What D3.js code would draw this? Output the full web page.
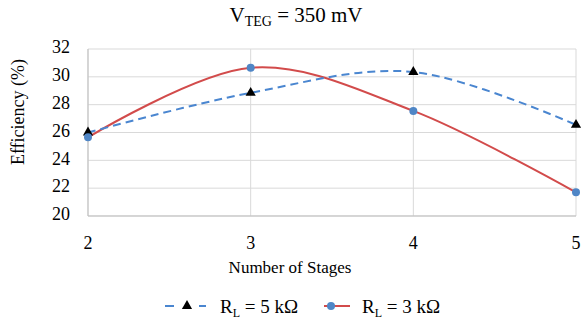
<!DOCTYPE html>
<html>
<head>
<meta charset="utf-8">
<script src="https://cdn.jsdelivr.net/npm/d3@7"></script>
<style>
  body { margin: 0; background: #fff; }
</style>
</head>
<body>
<div id="chart"></div>
<script>
// Data
const stages = [2, 3, 4, 5];
const rl5k = [26.0, 28.85, 30.35, 26.55];
const rl3k = [25.65, 30.65, 27.55, 21.7];
const yTicks = [20, 22, 24, 26, 28, 30, 32];

const width = 583, height = 322;
const margin = { top: 49, right: 7, bottom: 106, left: 88 };
const serif = "'Liberation Serif', 'DejaVu Serif', 'Times New Roman', serif";

const svg = d3.select("#chart").append("svg")
  .attr("width", width)
  .attr("height", height)
  .style("font-family", serif);

const x = d3.scaleLinear().domain([2, 5]).range([margin.left, width - margin.right]);
const y = d3.scaleLinear().domain([20, 32]).range([height - margin.bottom, margin.top]);

// Gridlines
svg.append("g")
  .selectAll("line")
  .data(yTicks)
  .join("line")
  .attr("x1", margin.left).attr("x2", width - margin.right)
  .attr("y1", d => y(d)).attr("y2", d => y(d))
  .attr("stroke", "#d9d9d9");

svg.append("g")
  .selectAll("line")
  .data(stages)
  .join("line")
  .attr("x1", d => x(d)).attr("x2", d => x(d))
  .attr("y1", y(20)).attr("y2", y(32))
  .attr("stroke", "#d9d9d9");

// Axis lines
svg.append("line")
  .attr("x1", margin.left).attr("x2", margin.left)
  .attr("y1", y(20)).attr("y2", y(32))
  .attr("stroke", "#bfbfbf");
svg.append("line")
  .attr("x1", margin.left).attr("x2", width - margin.right)
  .attr("y1", y(20)).attr("y2", y(20))
  .attr("stroke", "#bfbfbf");

// Tick labels
svg.append("g")
  .selectAll("text")
  .data(yTicks)
  .join("text")
  .attr("x", 70)
  .attr("y", d => y(d) - 2)
  .attr("dy", "0.35em")
  .attr("text-anchor", "end")
  .style("font-size", "18px")
  .text(d => d);

svg.append("g")
  .selectAll("text")
  .data(stages)
  .join("text")
  .attr("x", d => x(d))
  .attr("y", 243)
  .attr("dy", "0.35em")
  .attr("text-anchor", "middle")
  .style("font-size", "18px")
  .text(d => d);

// Titles
const title = svg.append("text")
  .attr("x", 296)
  .attr("y", 22)
  .attr("text-anchor", "middle")
  .style("font-size", "21px");
title.append("tspan").text("V");
title.append("tspan").attr("dy", 4).style("font-size", "14px").text("TEG");
title.append("tspan").attr("dy", -4).text(" = 350 mV");

svg.append("text")
  .attr("x", 290)
  .attr("y", 273)
  .attr("text-anchor", "middle")
  .style("font-size", "17px")
  .text("Number of Stages");

svg.append("text")
  .attr("transform", "translate(24,112) rotate(-90)")
  .attr("text-anchor", "middle")
  .style("font-size", "18px")
  .text("Efficiency (%)");

// Lines
const line = d3.line()
  .x((d, i) => x(stages[i]))
  .y(d => y(d))
  .curve(d3.curveCardinal.tension(0));

svg.append("path")
  .datum(rl3k)
  .attr("d", line)
  .attr("fill", "none")
  .attr("stroke", "#d24b4b")
  .attr("stroke-width", 2);

svg.append("path")
  .datum(rl5k)
  .attr("d", line)
  .attr("fill", "none")
  .attr("stroke", "#4a86d0")
  .attr("stroke-width", 2)
  .attr("stroke-dasharray", "8,5");

// Markers
const tri = d3.symbol().type(d3.symbolTriangle).size(45);

svg.append("g")
  .selectAll("path")
  .data(rl5k)
  .join("path")
  .attr("d", tri)
  .attr("transform", (d, i) => `translate(${x(stages[i])},${y(d)})`)
  .attr("fill", "#000");

svg.append("g")
  .selectAll("circle")
  .data(rl3k)
  .join("circle")
  .attr("cx", (d, i) => x(stages[i]))
  .attr("cy", d => y(d))
  .attr("r", 4)
  .attr("fill", "#4f86c6");

// Legend
const leg = svg.append("g").attr("transform", "translate(0,306)");

leg.append("line")
  .attr("x1", 165).attr("x2", 206).attr("y1", 0).attr("y2", 0)
  .attr("stroke", "#4a86d0").attr("stroke-width", 2)
  .attr("stroke-dasharray", "9,8");
leg.append("rect")
  .attr("x", 180).attr("y", -4).attr("width", 14).attr("height", 8)
  .attr("fill", "#fff");
leg.append("path")
  .attr("d", tri)
  .attr("transform", "translate(187,0)")
  .attr("fill", "#000");

const t1 = leg.append("text")
  .attr("x", 220).attr("y", 0).attr("dy", "0.35em")
  .style("font-size", "19px");
t1.append("tspan").text("R");
t1.append("tspan").attr("dy", 4).style("font-size", "12px").text("L");
t1.append("tspan").attr("dy", -4).text(" = 5 kΩ");

leg.append("line")
  .attr("x1", 324).attr("x2", 350).attr("y1", 0).attr("y2", 0)
  .attr("stroke", "#d24b4b").attr("stroke-width", 2);
leg.append("circle")
  .attr("cx", 331).attr("cy", 0).attr("r", 4)
  .attr("fill", "#4f86c6");

const t2 = leg.append("text")
  .attr("x", 362).attr("y", 0).attr("dy", "0.35em")
  .style("font-size", "19px");
t2.append("tspan").text("R");
t2.append("tspan").attr("dy", 4).style("font-size", "12px").text("L");
t2.append("tspan").attr("dy", -4).text(" = 3 kΩ");
</script>
</body>
</html>
